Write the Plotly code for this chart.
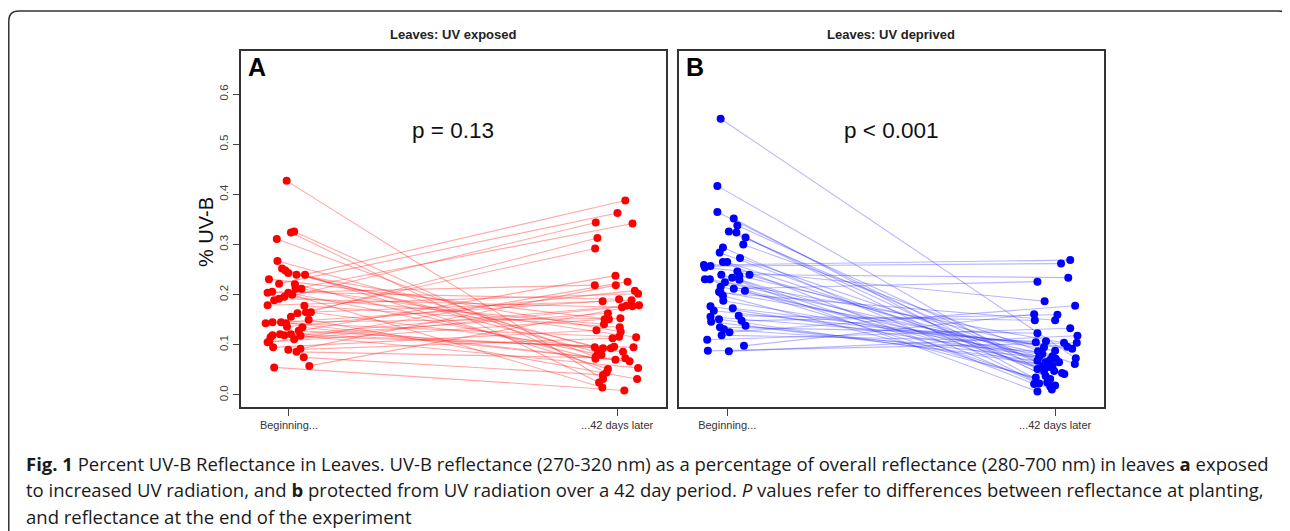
import plotly.graph_objects as go

# page has an 8px body margin; figure sized so that it fills the 1290x531 window
OX, OY = 8, 8
W, H = 1290 - OX, 531 - OY

# ---------------- data ----------------
categories = ["Beginning...", "...42 days later"]
ytick_vals = [0.0, 0.1, 0.2, 0.3, 0.4, 0.5, 0.6]

# Panel A: UV exposed (paired values)
a_begin = [0.427,0.324,0.326,0.311,0.267,0.252,0.248,0.243,0.240,0.240,0.231,0.222,0.221,0.204,0.206,0.212,0.212,0.204,0.189,0.192,0.196,0.179,0.178,0.163,0.165,0.165,0.156,0.143,0.145,0.145,0.143,0.136,0.135,0.121,0.119,0.119,0.115,0.121,0.111,0.118,0.106,0.095,0.090,0.086,0.092,0.075,0.055,0.058,0.105,0.128,0.200,0.150]
a_end = [0.032,0.025,0.045,0.076,0.095,0.052,0.085,0.126,0.093,0.388,0.151,0.363,0.072,0.219,0.191,0.342,0.115,0.080,0.344,0.175,0.141,0.202,0.135,0.292,0.189,0.086,0.313,0.187,0.153,0.070,0.116,0.208,0.067,0.238,0.178,0.095,0.163,0.096,0.226,0.054,0.179,0.129,0.113,0.073,0.219,0.040,0.009,0.177,0.151,0.093,0.015,0.032]
a_begin_jitter = [-0.007,0.006,0.016,-0.037,-0.035,-0.021,-0.011,-0.002,0.023,0.049,-0.061,-0.030,0.018,-0.065,-0.051,0.020,0.038,-0.002,-0.045,-0.030,-0.014,-0.065,0.047,0.026,0.052,0.067,0.006,-0.071,-0.050,-0.024,-0.009,-0.006,0.041,-0.027,-0.014,-0.050,-0.056,0.006,0.016,0.035,-0.060,-0.048,-0.002,0.023,0.035,0.045,-0.045,0.062,-0.065,0.030,0.010,0.060]
a_end_jitter = [-0.043,-0.055,-0.032,-0.065,-0.068,-0.028,-0.058,0.011,-0.043,0.025,-0.025,0.001,-0.066,-0.068,0.006,0.047,0.058,-0.048,-0.065,0.015,-0.040,0.064,0.008,-0.067,0.044,0.018,-0.060,-0.044,0.010,-0.005,0.006,0.054,0.038,-0.005,0.028,0.050,-0.028,-0.009,0.032,0.064,0.067,-0.063,-0.014,0.025,-0.004,-0.043,0.022,0.047,-0.038,-0.019,-0.045,0.061]

# Panel B: UV deprived (paired values)
b_begin = [0.551,0.417,0.365,0.352,0.338,0.326,0.324,0.314,0.300,0.294,0.284,0.273,0.259,0.257,0.265,0.265,0.246,0.240,0.240,0.231,0.231,0.234,0.230,0.225,0.216,0.212,0.208,0.206,0.198,0.188,0.177,0.168,0.173,0.156,0.151,0.146,0.158,0.148,0.138,0.135,0.131,0.125,0.119,0.110,0.088,0.087,0.098,0.254,0.204,0.238]
b_end = [0.073,0.052,0.032,0.017,0.056,0.044,0.023,0.038,0.062,0.011,0.048,0.065,0.269,0.262,0.022,0.058,0.070,0.234,0.007,0.042,0.082,0.019,0.048,0.104,0.065,0.226,0.025,0.088,0.035,0.077,0.072,0.096,0.092,0.105,0.058,0.068,0.149,0.160,0.075,0.123,0.087,0.178,0.107,0.133,0.104,0.118,0.161,0.187,0.149,0.095]
b_begin_jitter = [-0.020,-0.030,-0.030,0.020,0.031,0.005,0.028,0.056,0.049,-0.013,-0.023,0.039,-0.071,-0.051,-0.013,0.000,0.031,0.068,-0.018,-0.068,-0.053,0.015,0.037,-0.007,-0.020,0.020,0.054,-0.025,-0.013,-0.012,-0.051,-0.041,0.017,-0.051,-0.025,-0.049,0.035,0.044,0.056,-0.022,-0.010,0.007,-0.017,-0.061,-0.059,0.005,0.051,-0.068,-0.020,0.037]
b_end_jitter = [0.063,-0.054,-0.015,-0.015,-0.018,0.021,-0.049,-0.029,0.060,-0.010,-0.034,-0.029,0.046,0.018,-0.064,-0.039,-0.015,0.040,-0.054,0.028,-0.039,0.000,-0.003,0.027,0.012,-0.054,-0.024,0.000,-0.059,-0.008,0.002,0.037,0.052,-0.059,-0.008,-0.054,-0.062,0.007,-0.049,-0.054,-0.052,0.061,-0.028,0.046,0.066,0.068,-0.064,-0.032,0.000,-0.034]

panel_titles = ["Leaves: UV exposed", "Leaves: UV deprived"]
panel_letters = ["A", "B"]
p_texts = ["p = 0.13", "p < 0.001"]
y_title = "% UV-B"
caption_lines = [
    "<b>Fig. 1</b> Percent UV-B Reflectance in Leaves. UV-B reflectance (270-320 nm) as a percentage of overall reflectance (280-700 nm) in leaves <b>a</b> exposed",
    "to increased UV radiation, and <b>b</b> protected from UV radiation over a 42 day period. <i>P</i> values refer to differences between reflectance at planting,",
    "and reflectance at the end of the experiment",
]

# ---------------- helpers (page pixel -> paper fraction) ----------------
def px(x):
    return (x - OX) / W

def py(y):
    return 1 - (y - OY) / H

def pair_traces(begin, end, bj, ej, line_color, marker_color, xa, ya):
    lx, ly = [], []
    for b, e, j1, j2 in zip(begin, end, bj, ej):
        lx += [1 + j1, 2 + j2, None]
        ly += [b, e, None]
    lines = go.Scatter(x=lx, y=ly, mode="lines", line=dict(color=line_color, width=1.1),
                       xaxis=xa, yaxis=ya, hoverinfo="skip", showlegend=False)
    mx = [1 + j for j in bj] + [2 + j for j in ej]
    my = list(begin) + list(end)
    marks = go.Scatter(x=mx, y=my, mode="markers", marker=dict(color=marker_color, size=8),
                       xaxis=xa, yaxis=ya, showlegend=False)
    return [lines, marks]

fig = go.Figure()
for t in pair_traces(a_begin, a_end, a_begin_jitter, a_end_jitter,
                     "rgba(255,40,40,0.4)", "#FF0000", "x", "y"):
    fig.add_trace(t)
for t in pair_traces(b_begin, b_end, b_begin_jitter, b_end_jitter,
                     "rgba(50,50,255,0.35)", "#0000FF", "x2", "y2"):
    fig.add_trace(t)

xr = [0.853, 2.149]
yr = [-0.024, 0.686]
box_top, box_bot = 51, 407
domA = [px(240.7), px(666)]
domB = [px(679), px(1104)]
ydom = [py(box_bot), py(box_top)]

common_x = dict(range=xr, tickvals=[1, 2], ticktext=categories, ticks="outside", ticklen=7,
                tickcolor="#444", tickwidth=1, showgrid=False, zeroline=False,
                showline=True, mirror=True, linecolor="#333", linewidth=1.5,
                tickfont=dict(family="Liberation Sans, Arial", size=11, color="#333"))
common_y = dict(range=yr, showgrid=False, zeroline=False, showline=True, mirror=True,
                linecolor="#333", linewidth=1.5)

fig.update_layout(
    width=W, height=H,
    margin=dict(l=0, r=0, t=0, b=0),
    paper_bgcolor="white", plot_bgcolor="white",
    xaxis=dict(domain=domA, anchor="y", **common_x),
    yaxis=dict(domain=ydom, anchor="x", tickvals=ytick_vals, tickformat=".1f",
               ticks="outside", ticklen=6, tickcolor="#444", tickangle=-90,
               tickfont=dict(family="Liberation Sans, Arial", size=11.5, color="#444"),
               **common_y),
    xaxis2=dict(domain=domB, anchor="y2", **common_x),
    yaxis2=dict(domain=ydom, anchor="x2", showticklabels=False, ticks="", **common_y),
)

ann = []
centers = [453, 891]
for i in range(2):
    ann.append(dict(text="<b>" + panel_titles[i] + "</b>", x=px(centers[i]), y=py(34),
                    xref="paper", yref="paper", showarrow=False, xanchor="center", yanchor="middle",
                    font=dict(family="Liberation Sans, Arial", size=13, color="#222")))
    ann.append(dict(text=p_texts[i], x=px(centers[i]), y=py(130),
                    xref="paper", yref="paper", showarrow=False, xanchor="center", yanchor="middle",
                    font=dict(family="Liberation Sans, Arial", size=22.5, color="#111")))
    ann.append(dict(text="<b>" + panel_letters[i] + "</b>", x=px([246, 684][i]), y=py(67),
                    xref="paper", yref="paper", showarrow=False, xanchor="left", yanchor="middle",
                    font=dict(family="Liberation Sans, Arial", size=25, color="#000")))
ann.append(dict(text=y_title, x=px(206), y=py(232), xref="paper", yref="paper", showarrow=False,
                textangle=-90, xanchor="center", yanchor="middle",
                font=dict(family="Liberation Sans, Arial", size=20, color="#111")))
for k, line in enumerate(caption_lines):
    ann.append(dict(text=line, x=px(24), y=py(463 + 26.5 * k), xref="paper", yref="paper",
                    showarrow=False, xanchor="left", yanchor="middle",
                    font=dict(family="Open Sans", size=18.5, color="#1a1a1a")))
fig.update_layout(annotations=ann)

# rounded outer frame (open at the bottom)
r = 10
x0, y0, x1 = 8.8, 11, 1288.5
path = (f"M {px(x0)} {py(H + OY + 5)} L {px(x0)} {py(y0 + r)} "
        f"Q {px(x0)} {py(y0)} {px(x0 + r)} {py(y0)} "
        f"L {px(x1 - r)} {py(y0)} Q {px(x1)} {py(y0)} {px(x1)} {py(y0 + r)} "
        f"L {px(x1)} {py(H + OY + 5)}")
fig.add_shape(type="path", path=path, xref="paper", yref="paper",
              line=dict(color="#333", width=1.5))

fig.write_html("out.html")
